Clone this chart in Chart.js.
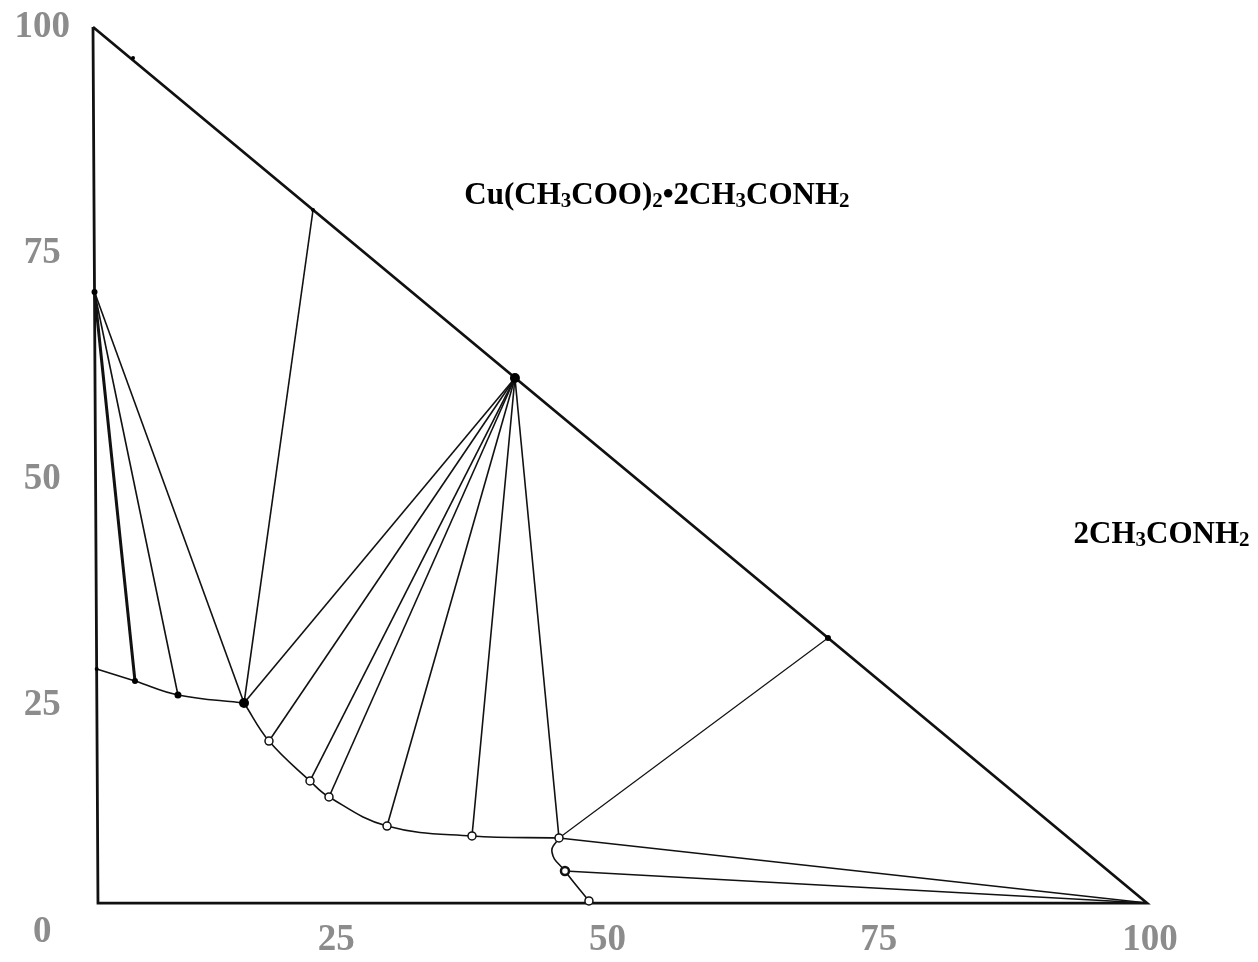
<!DOCTYPE html>
<html>
<head>
<meta charset="utf-8">
<script src="https://cdn.jsdelivr.net/npm/chart.js@4.4.0/dist/chart.umd.min.js"></script>
<style>
  html, body { margin: 0; padding: 0; background: #ffffff; }
  canvas { display: block; }
</style>
</head>
<body>
<canvas id="c" width="1258" height="962"></canvas>
<script>
// ---------- tick labels ----------
const xTicks = [25, 50, 75, 100];
const yTicks = [0, 25, 50, 75, 100];

// ---------- triangle outline (top vertex, lower-left, lower-right, back to top) ----------
const triangleX = [2.58, 3.04, 99.72, 2.58];
const triangleY = [100.0, 3.20, 3.20, 100.0];

// ---------- solubility branches ----------
const branch1X = [2.92, 6.45, 10.41, 16.50];
const branch1Y = [29.06, 27.73, 26.19, 25.30];
const branch2X = [16.50, 18.80, 22.58, 24.33, 29.68, 37.51, 45.53];
const branch2Y = [25.30, 21.10, 16.69, 14.92, 11.71, 10.61, 10.39];
const branch3X = [45.53, 44.88, 46.08, 48.29];
const branch3Y = [10.39, 8.84, 6.74, 3.43];

// ---------- solid phases (tie-line convergence points) ----------
const phaseAX = 2.72,  phaseAY = 70.72;
const phaseBX = 41.47, phaseBY = 61.22;
const phaseCX = 99.72, phaseCY = 3.20;

// ---------- tie-line liquid ends ----------
const tieAX = [6.45, 10.41, 16.50];
const tieAY = [27.73, 26.19, 25.30];
const tieBX = [16.50, 18.80, 22.58, 24.33, 29.68, 37.51, 45.53];
const tieBY = [25.30, 21.10, 16.69, 14.92, 11.71, 10.61, 10.39];
const tieCX = [45.53, 46.08];
const tieCY = [10.39, 6.74];

// ---------- other construction lines ----------
const extraStartX = [16.50, 45.53];
const extraStartY = [25.30, 10.39];
const extraEndX = [22.86, 70.32];
const extraEndY = [79.78, 32.49];

// ---------- marked points ----------
const dotX = [2.72, 41.47, 16.50, 6.45, 10.41, 70.32, 22.86, 6.27, 2.92];
const dotY = [70.72, 61.22, 25.30, 27.73, 26.19, 32.49, 79.78, 96.57, 29.06];
const ringX = [18.80, 22.58, 24.33, 29.68, 37.51, 45.53, 46.08, 48.29];
const ringY = [21.10, 16.69, 14.92, 11.71, 10.61, 10.39, 6.74, 3.43];

// ---------- phase labels ----------
const phaseLabels = ['Cu(CH₃COO)₂•2CH₃CONH₂', '2CH₃CONH₂'];
const phaseLabelX = [54.56, 101.06];
const phaseLabelY = [80.44, 42.98];

// ======================================================
const pts = (xs, ys) => xs.map((x, i) => ({ x: x, y: ys[i] }));
const seg = (x1, y1, x2, y2) => [{ x: x1, y: y1 }, { x: x2, y: y2 }];

const datasets = [];
const lineDs = (data, width, tension) => ({
  data: data, showLine: true, borderColor: '#111', borderWidth: width,
  pointRadius: 0, pointHoverRadius: 0, tension: tension || 0, fill: false, order: 2
});

datasets.push(lineDs(pts(triangleX, triangleY), 2.8));
datasets.push(lineDs(pts(branch1X, branch1Y), 1.6, 0.4));
datasets.push(lineDs(pts(branch2X, branch2Y), 1.6, 0.4));
datasets.push(lineDs(pts(branch3X, branch3Y), 1.6, 0.5));
tieAX.forEach((x, i) => datasets.push(lineDs(seg(phaseAX, phaseAY, x, tieAY[i]), i === 0 ? 3 : 1.6)));
tieBX.forEach((x, i) => datasets.push(lineDs(seg(phaseBX, phaseBY, x, tieBY[i]), 1.6)));
tieCX.forEach((x, i) => datasets.push(lineDs(seg(phaseCX, phaseCY, x, tieCY[i]), 1.5)));
extraStartX.forEach((x, i) => datasets.push(lineDs(seg(x, extraStartY[i], extraEndX[i], extraEndY[i]), i === 0 ? 1.6 : 1.2)));

const dotRadius = [3, 5, 5, 3, 3.5, 3, 2, 2, 2];
datasets.push({
  data: pts(dotX, dotY), showLine: false, pointStyle: 'circle',
  pointRadius: dotRadius, pointHoverRadius: dotRadius,
  pointBackgroundColor: '#000', pointBorderColor: '#000', pointBorderWidth: 0, order: 0
});
const ringBorder = [1.5, 1.5, 1.5, 1.5, 1.5, 1.5, 2.5, 1.5];
datasets.push({
  data: pts(ringX, ringY), showLine: false, pointStyle: 'circle',
  pointRadius: 4, pointHoverRadius: 4,
  pointBackgroundColor: '#fff', pointBorderColor: '#111', pointBorderWidth: ringBorder, order: 0
});

// rich chemical-formula label plugin (subscript digits drawn smaller and lowered)
const chemLabels = {
  id: 'chemLabels',
  afterDatasetsDraw(chart) {
    const ctx = chart.ctx;
    const xs = chart.scales.x, ys = chart.scales.y;
    const size = 31;
    const subs = '₀₁₂₃₄₅₆₇₈₉';
    const big = `bold ${size}px "Liberation Serif", "Times New Roman", serif`;
    const small = `bold ${Math.round(size * 0.68)}px "Liberation Serif", "Times New Roman", serif`;
    ctx.save();
    ctx.fillStyle = '#000';
    ctx.textAlign = 'left';
    ctx.textBaseline = 'alphabetic';
    phaseLabels.forEach((text, k) => {
      const segs = [];
      for (const ch of text) {
        const i = subs.indexOf(ch);
        const sub = i >= 0;
        const c = sub ? String(i) : ch;
        if (segs.length && segs[segs.length - 1].sub === sub) segs[segs.length - 1].t += c;
        else segs.push({ t: c, sub: sub });
      }
      let w = 0;
      segs.forEach(s => { ctx.font = s.sub ? small : big; s.w = ctx.measureText(s.t).width; w += s.w; });
      let x = xs.getPixelForValue(phaseLabelX[k]) - w / 2;
      const by = ys.getPixelForValue(phaseLabelY[k]);
      segs.forEach(s => {
        ctx.font = s.sub ? small : big;
        ctx.fillText(s.t, x, by + (s.sub ? size * 0.1 : 0));
        x += s.w;
      });
    });
    ctx.restore();
  }
};

const tickFont = { family: '"Liberation Serif", "Times New Roman", serif', size: 37, weight: 'bold' };

new Chart(document.getElementById('c'), {
  type: 'scatter',
  data: { datasets: datasets },
  options: {
    responsive: false,
    animation: false,
    events: [],
    layout: { padding: { left: 0, right: 8, top: 10, bottom: 0 } },
    plugins: { legend: { display: false }, tooltip: { enabled: false }, title: { display: false } },
    scales: {
      x: {
        type: 'linear',
        min: 1.382, max: 109.217,
        grid: { display: false, drawTicks: false },
        border: { display: false },
        afterBuildTicks: s => { s.ticks = xTicks.map(v => ({ value: v })); },
        afterFit: s => { s.height = 47; s.paddingLeft = 0; s.paddingRight = 0; },
        ticks: { font: tickFont, color: '#8c8c8c', padding: 3, maxRotation: 0, autoSkip: false,
                 callback: v => String(v) }
      },
      y: {
        type: 'linear',
        min: 1.878, max: 101.878,
        grid: { display: false, drawTicks: false },
        border: { display: false },
        afterBuildTicks: s => { s.ticks = yTicks.map(v => ({ value: v })); },
        afterFit: s => { s.width = 80; s.paddingTop = 0; s.paddingBottom = 0; },
        ticks: { font: tickFont, color: '#8c8c8c', padding: 10, crossAlign: 'center', autoSkip: false,
                 callback: v => String(v) }
      }
    }
  },
  plugins: [chemLabels]
});
</script>
</body>
</html>
